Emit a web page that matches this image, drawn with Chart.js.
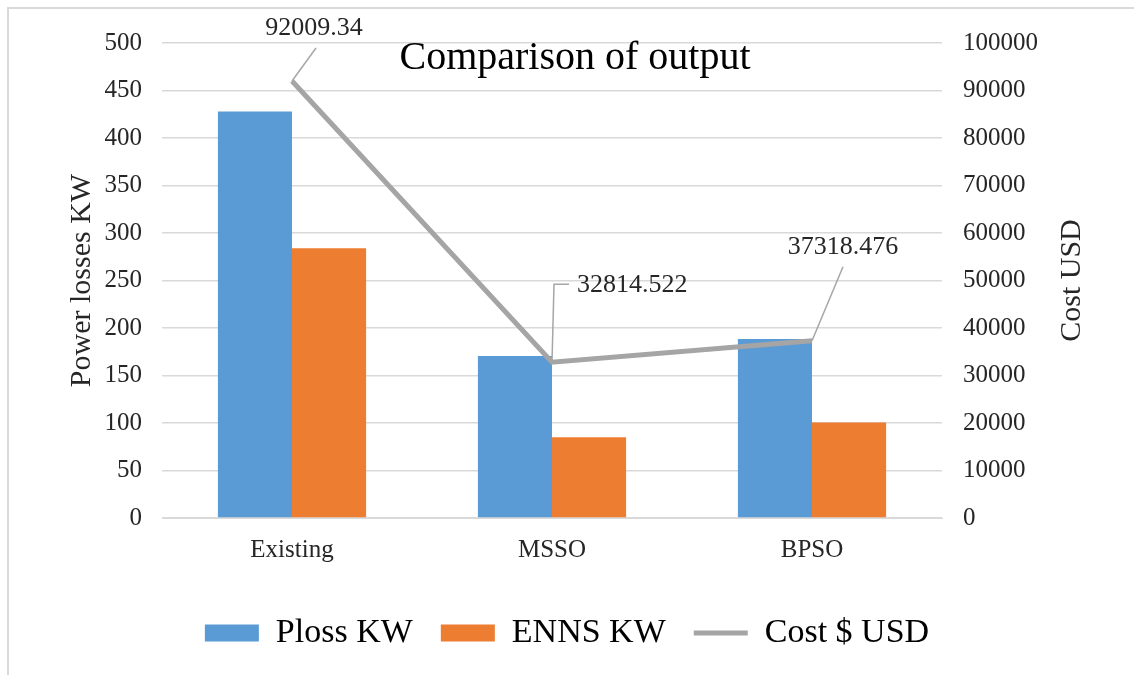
<!DOCTYPE html>
<html>
<head>
<meta charset="utf-8">
<script src="https://cdn.jsdelivr.net/npm/chart.js@4.4.1/dist/chart.umd.min.js"></script>
<style>
html,body{margin:0;padding:0;background:#fff;}
#wrap{width:1134px;height:675px;position:relative;}
</style>
</head>
<body>
<div id="wrap"><canvas id="c" width="1134" height="675"></canvas></div>
<script>
const categories = ["Existing", "MSSO", "BPSO"];
const plossKW = [428, 170.5, 188.5];
const ennsKW = [284, 85, 100.5];
const costUSD = [92009.34, 32814.522, 37318.476];
const costLabels = ["92009.34", "32814.522", "37318.476"];
const seriesNames = ["Ploss KW", "ENNS KW", "Cost $ USD"];
const chartTitle = "Comparison of output";
const leftAxisTitle = "Power losses KW";
const rightAxisTitle = "Cost USD";

const SERIF = "'Liberation Serif','Times New Roman',serif";
const TXT = "#262626";

// leader offsets (relative to point) for the cost data labels
const labelOffsets = [
  {lx: 24, ly: -33, tx: 22, ty: -53, align: 'center', elbow: false},
  {lx: 2, ly: -78, hx: 17, tx: 25, ty: -77, align: 'left', elbow: true},
  {lx: 31, ly: -74, tx: 31, ty: -94, align: 'center', elbow: false}
];

const decorPlugin = {
  id: 'decor',
  beforeDraw(chart) {
    const ctx = chart.ctx;
    ctx.save();
    ctx.fillStyle = '#fff';
    ctx.fillRect(0, 0, chart.width, chart.height);
    ctx.strokeStyle = '#D9D9D9';
    ctx.lineWidth = 2;
    ctx.beginPath();
    ctx.moveTo(8, chart.height);
    ctx.lineTo(8, 8);
    ctx.lineTo(chart.width, 8);
    ctx.stroke();
    ctx.restore();
  },
  afterDatasetsDraw(chart) {
    const ctx = chart.ctx;
    const meta = chart.getDatasetMeta(2);
    ctx.save();
    meta.data.forEach((pt, i) => {
      const o = labelOffsets[i];
      ctx.strokeStyle = '#A6A6A6';
      ctx.lineWidth = 1.5;
      ctx.beginPath();
      ctx.moveTo(pt.x, pt.y);
      ctx.lineTo(pt.x + o.lx, pt.y + o.ly);
      if (o.elbow) ctx.lineTo(pt.x + o.hx, pt.y + o.ly);
      ctx.stroke();
      ctx.fillStyle = TXT;
      ctx.font = "26px " + SERIF;
      ctx.textAlign = o.align;
      ctx.textBaseline = 'middle';
      ctx.fillText(costLabels[i], pt.x + o.tx, pt.y + o.ty);
    });
    const ca = chart.chartArea;
    ctx.fillStyle = '#000';
    ctx.font = "40px " + SERIF;
    ctx.textAlign = 'center';
    ctx.textBaseline = 'middle';
    ctx.fillText(chartTitle, 575, ca.top + 15);
    ctx.save();
    ctx.translate(1072, (ca.top + ca.bottom) / 2);
    ctx.rotate(-Math.PI / 2);
    ctx.font = "30px " + SERIF;
    ctx.fillStyle = TXT;
    ctx.fillText(rightAxisTitle, 0, 0);
    ctx.restore();
    ctx.restore();
  }
};

new Chart(document.getElementById('c'), {
  type: 'bar',
  data: {
    labels: categories,
    datasets: [
      {label: seriesNames[0], data: plossKW, backgroundColor: '#5B9BD5', borderWidth: 0, yAxisID: 'y', order: 2, pointStyle: 'rect',
       categoryPercentage: 0.57, barPercentage: 1.0},
      {label: seriesNames[1], data: ennsKW, backgroundColor: '#ED7D31', borderWidth: 0, yAxisID: 'y', order: 2, pointStyle: 'rect',
       categoryPercentage: 0.57, barPercentage: 1.0},
      {type: 'line', label: seriesNames[2], data: costUSD, borderColor: '#A5A5A5', backgroundColor: '#A5A5A5', borderWidth: 5,
       pointRadius: 0, pointHoverRadius: 0, tension: 0, yAxisID: 'y1', order: 0, pointStyle: 'line', fill: false}
    ]
  },
  options: {
    responsive: false,
    animation: false,
    devicePixelRatio: 1,
    layout: {padding: {top: 43, left: 0, right: 0, bottom: 15}},
    plugins: {
      title: {display: false},
      tooltip: {enabled: false},
      legend: {
        display: true,
        position: 'bottom',
        labels: {
          usePointStyle: true,
          pointStyleWidth: 54,
          boxHeight: 17,
          padding: 28,
          color: '#000',
          font: {family: SERIF, size: 34},
          sort: (a, b) => a.datasetIndex - b.datasetIndex
        }
      }
    },
    scales: {
      x: {
        offset: true,
        grid: {display: false, drawTicks: false},
        border: {display: true, color: '#D9D9D9', width: 1},
        ticks: {color: TXT, padding: 17, font: {family: SERIF, size: 25}},
        afterFit(s) { s.height = 70; }
      },
      y: {
        position: 'left',
        min: 0, max: 500,
        ticks: {stepSize: 50, color: TXT, padding: 20, font: {family: SERIF, size: 25}},
        grid: {color: '#D9D9D9', lineWidth: 1.5, drawTicks: false},
        border: {display: false},
        title: {display: true, text: leftAxisTitle, color: TXT, font: {family: SERIF, size: 30}, padding: {top: 64, bottom: 0}},
        afterFit(s) { s.width = 162; }
      },
      y1: {
        position: 'right',
        min: 0, max: 100000,
        ticks: {stepSize: 10000, color: TXT, padding: 21, font: {family: SERIF, size: 25},
                callback: (v) => String(v)},
        grid: {display: false, drawTicks: false},
        border: {display: false},
        afterFit(s) { s.width = 192; }
      }
    }
  },
  plugins: [decorPlugin]
});
</script>
</body>
</html>
